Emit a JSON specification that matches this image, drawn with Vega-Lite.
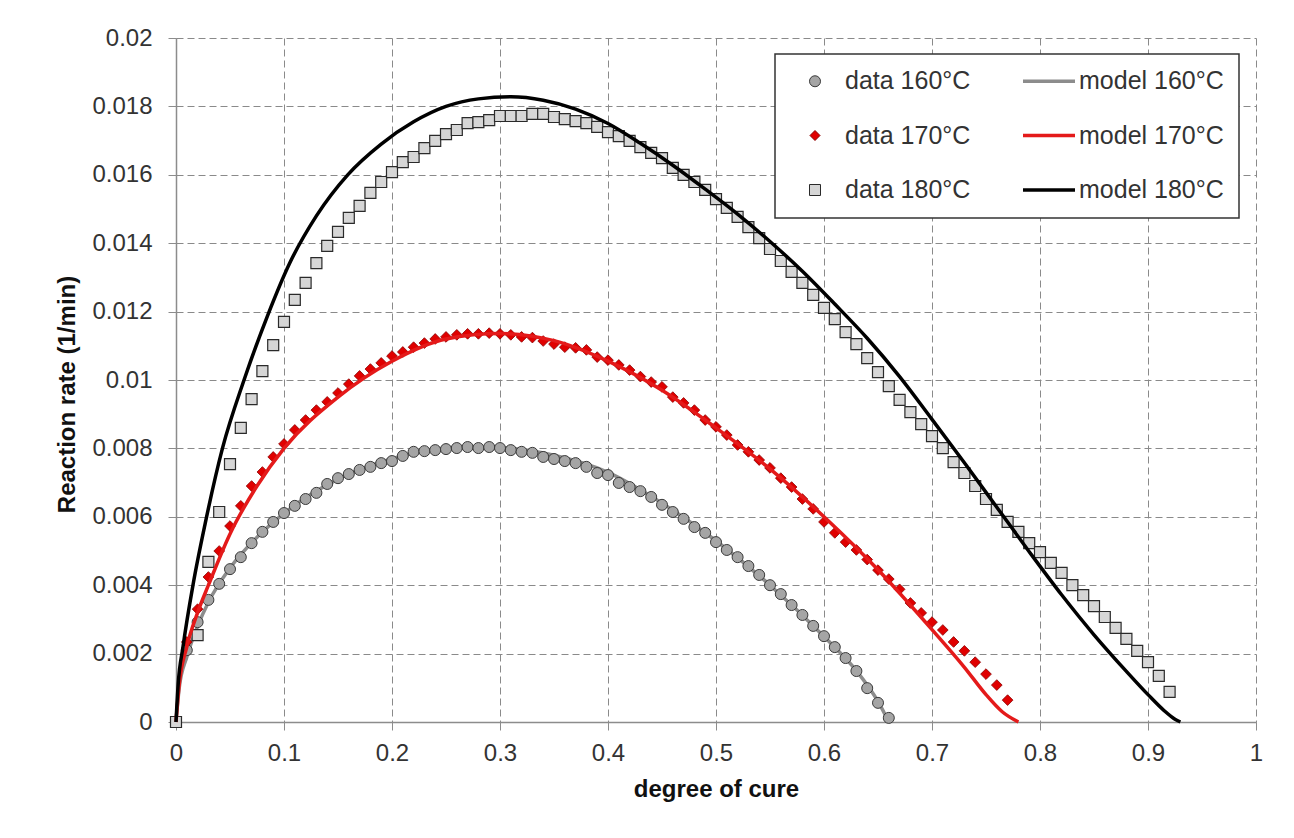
{
  "$schema": "https://vega.github.io/schema/vega-lite/v6.json",
  "autosize": {"type": "none"},
  "padding": {"left": 176, "top": 38, "right": 38, "bottom": 116},
  "width": 1080,
  "height": 684,
  "background": "white",
  "config": {
    "font": "Liberation Sans",
    "view": {"stroke": null},
    "axis": {
      "labelFont": "Liberation Sans", "labelFontSize": 24, "labelColor": "#333333",
      "titleFont": "Liberation Sans", "titleFontSize": 24, "titleFontWeight": "bold", "titleColor": "#111111",
      "gridColor": "#8a8a8a", "gridDash": [7, 4], "gridWidth": 1,
      "domainColor": "#8c8c8c", "domainWidth": 1.5,
      "tickColor": "#8c8c8c", "tickSize": 8, "tickWidth": 1,
      "labelOverlap": false, "labelFlush": false, "labelBound": false
    },
    "legend": {
      "orient": "none", "legendX": 599, "legendY": 16, "columns": 2,
      "padding": 14.5, "rowPadding": 28.5, "columnPadding": 45.5,
      "strokeColor": "#333333", "fillColor": "white",
      "labelFont": "Liberation Sans", "labelFontSize": 25, "labelColor": "#333333", "labelLimit": 300,
      "symbolSize": 121
    }
  },
  "data": {"values": [
    {"series":"data 160°C","alpha":0,"rate":0},{"series":"data 160°C","alpha":0.01,"rate":0.0021},{"series":"data 160°C","alpha":0.02,"rate":0.00292},{"series":"data 160°C","alpha":0.03,"rate":0.00357},{"series":"data 160°C","alpha":0.04,"rate":0.00404},{"series":"data 160°C","alpha":0.05,"rate":0.00447},{"series":"data 160°C","alpha":0.06,"rate":0.00482},{"series":"data 160°C","alpha":0.07,"rate":0.00523},{"series":"data 160°C","alpha":0.08,"rate":0.00556},{"series":"data 160°C","alpha":0.09,"rate":0.00585},{"series":"data 160°C","alpha":0.1,"rate":0.00611},{"series":"data 160°C","alpha":0.11,"rate":0.00632},{"series":"data 160°C","alpha":0.12,"rate":0.00652},{"series":"data 160°C","alpha":0.13,"rate":0.0067},{"series":"data 160°C","alpha":0.14,"rate":0.00696},{"series":"data 160°C","alpha":0.15,"rate":0.00713},{"series":"data 160°C","alpha":0.16,"rate":0.00725},{"series":"data 160°C","alpha":0.17,"rate":0.00737},{"series":"data 160°C","alpha":0.18,"rate":0.00746},{"series":"data 160°C","alpha":0.19,"rate":0.00757},{"series":"data 160°C","alpha":0.2,"rate":0.00763},{"series":"data 160°C","alpha":0.21,"rate":0.00778},{"series":"data 160°C","alpha":0.22,"rate":0.0079},{"series":"data 160°C","alpha":0.23,"rate":0.00792},{"series":"data 160°C","alpha":0.24,"rate":0.00795},{"series":"data 160°C","alpha":0.25,"rate":0.00798},{"series":"data 160°C","alpha":0.26,"rate":0.00801},{"series":"data 160°C","alpha":0.27,"rate":0.00804},{"series":"data 160°C","alpha":0.28,"rate":0.00801},{"series":"data 160°C","alpha":0.29,"rate":0.00804},{"series":"data 160°C","alpha":0.3,"rate":0.00801},{"series":"data 160°C","alpha":0.31,"rate":0.00795},{"series":"data 160°C","alpha":0.32,"rate":0.0079},{"series":"data 160°C","alpha":0.33,"rate":0.00787},{"series":"data 160°C","alpha":0.34,"rate":0.00775},{"series":"data 160°C","alpha":0.35,"rate":0.00769},{"series":"data 160°C","alpha":0.36,"rate":0.00763},{"series":"data 160°C","alpha":0.37,"rate":0.00757},{"series":"data 160°C","alpha":0.38,"rate":0.00746},{"series":"data 160°C","alpha":0.39,"rate":0.00728},{"series":"data 160°C","alpha":0.4,"rate":0.00722},{"series":"data 160°C","alpha":0.41,"rate":0.00699},{"series":"data 160°C","alpha":0.42,"rate":0.00687},{"series":"data 160°C","alpha":0.43,"rate":0.00675},{"series":"data 160°C","alpha":0.44,"rate":0.00658},{"series":"data 160°C","alpha":0.45,"rate":0.00635},{"series":"data 160°C","alpha":0.46,"rate":0.00614},{"series":"data 160°C","alpha":0.47,"rate":0.00594},{"series":"data 160°C","alpha":0.48,"rate":0.0057},{"series":"data 160°C","alpha":0.49,"rate":0.00553},{"series":"data 160°C","alpha":0.5,"rate":0.00526},{"series":"data 160°C","alpha":0.51,"rate":0.00503},{"series":"data 160°C","alpha":0.52,"rate":0.00482},{"series":"data 160°C","alpha":0.53,"rate":0.00456},{"series":"data 160°C","alpha":0.54,"rate":0.0043},{"series":"data 160°C","alpha":0.55,"rate":0.004},{"series":"data 160°C","alpha":0.56,"rate":0.00374},{"series":"data 160°C","alpha":0.57,"rate":0.00342},{"series":"data 160°C","alpha":0.58,"rate":0.00313},{"series":"data 160°C","alpha":0.59,"rate":0.00281},{"series":"data 160°C","alpha":0.6,"rate":0.00251},{"series":"data 160°C","alpha":0.61,"rate":0.00219},{"series":"data 160°C","alpha":0.62,"rate":0.00187},{"series":"data 160°C","alpha":0.63,"rate":0.00149},{"series":"data 160°C","alpha":0.64,"rate":0.00099},{"series":"data 160°C","alpha":0.65,"rate":0.00056},{"series":"data 160°C","alpha":0.66,"rate":0.00012},
    {"series":"data 170°C","alpha":0,"rate":0},{"series":"data 170°C","alpha":0.01,"rate":0.00234},{"series":"data 170°C","alpha":0.02,"rate":0.0033},{"series":"data 170°C","alpha":0.03,"rate":0.00424},{"series":"data 170°C","alpha":0.04,"rate":0.005},{"series":"data 170°C","alpha":0.05,"rate":0.00573},{"series":"data 170°C","alpha":0.06,"rate":0.00632},{"series":"data 170°C","alpha":0.07,"rate":0.0069},{"series":"data 170°C","alpha":0.08,"rate":0.00731},{"series":"data 170°C","alpha":0.09,"rate":0.00775},{"series":"data 170°C","alpha":0.1,"rate":0.00813},{"series":"data 170°C","alpha":0.11,"rate":0.00854},{"series":"data 170°C","alpha":0.12,"rate":0.00883},{"series":"data 170°C","alpha":0.13,"rate":0.00912},{"series":"data 170°C","alpha":0.14,"rate":0.00936},{"series":"data 170°C","alpha":0.15,"rate":0.00962},{"series":"data 170°C","alpha":0.16,"rate":0.00988},{"series":"data 170°C","alpha":0.17,"rate":0.01012},{"series":"data 170°C","alpha":0.18,"rate":0.01032},{"series":"data 170°C","alpha":0.19,"rate":0.0105},{"series":"data 170°C","alpha":0.2,"rate":0.0107},{"series":"data 170°C","alpha":0.21,"rate":0.01082},{"series":"data 170°C","alpha":0.22,"rate":0.01096},{"series":"data 170°C","alpha":0.23,"rate":0.01108},{"series":"data 170°C","alpha":0.24,"rate":0.0112},{"series":"data 170°C","alpha":0.25,"rate":0.01126},{"series":"data 170°C","alpha":0.26,"rate":0.01132},{"series":"data 170°C","alpha":0.27,"rate":0.01135},{"series":"data 170°C","alpha":0.28,"rate":0.01135},{"series":"data 170°C","alpha":0.29,"rate":0.01137},{"series":"data 170°C","alpha":0.3,"rate":0.01135},{"series":"data 170°C","alpha":0.31,"rate":0.01132},{"series":"data 170°C","alpha":0.32,"rate":0.01126},{"series":"data 170°C","alpha":0.33,"rate":0.01124},{"series":"data 170°C","alpha":0.34,"rate":0.01114},{"series":"data 170°C","alpha":0.35,"rate":0.01105},{"series":"data 170°C","alpha":0.36,"rate":0.01096},{"series":"data 170°C","alpha":0.37,"rate":0.01094},{"series":"data 170°C","alpha":0.38,"rate":0.01088},{"series":"data 170°C","alpha":0.39,"rate":0.01067},{"series":"data 170°C","alpha":0.4,"rate":0.01058},{"series":"data 170°C","alpha":0.41,"rate":0.01044},{"series":"data 170°C","alpha":0.42,"rate":0.01029},{"series":"data 170°C","alpha":0.43,"rate":0.0101},{"series":"data 170°C","alpha":0.44,"rate":0.00994},{"series":"data 170°C","alpha":0.45,"rate":0.0098},{"series":"data 170°C","alpha":0.46,"rate":0.0095},{"series":"data 170°C","alpha":0.47,"rate":0.00933},{"series":"data 170°C","alpha":0.48,"rate":0.00912},{"series":"data 170°C","alpha":0.49,"rate":0.00883},{"series":"data 170°C","alpha":0.5,"rate":0.00863},{"series":"data 170°C","alpha":0.51,"rate":0.00839},{"series":"data 170°C","alpha":0.52,"rate":0.0081},{"series":"data 170°C","alpha":0.53,"rate":0.0079},{"series":"data 170°C","alpha":0.54,"rate":0.00766},{"series":"data 170°C","alpha":0.55,"rate":0.00743},{"series":"data 170°C","alpha":0.56,"rate":0.00713},{"series":"data 170°C","alpha":0.57,"rate":0.00687},{"series":"data 170°C","alpha":0.58,"rate":0.00652},{"series":"data 170°C","alpha":0.59,"rate":0.00623},{"series":"data 170°C","alpha":0.6,"rate":0.00585},{"series":"data 170°C","alpha":0.61,"rate":0.00553},{"series":"data 170°C","alpha":0.62,"rate":0.00526},{"series":"data 170°C","alpha":0.63,"rate":0.00503},{"series":"data 170°C","alpha":0.64,"rate":0.00475},{"series":"data 170°C","alpha":0.65,"rate":0.00444},{"series":"data 170°C","alpha":0.66,"rate":0.00418},{"series":"data 170°C","alpha":0.67,"rate":0.00388},{"series":"data 170°C","alpha":0.68,"rate":0.00348},{"series":"data 170°C","alpha":0.69,"rate":0.00319},{"series":"data 170°C","alpha":0.7,"rate":0.00292},{"series":"data 170°C","alpha":0.71,"rate":0.00269},{"series":"data 170°C","alpha":0.72,"rate":0.00234},{"series":"data 170°C","alpha":0.73,"rate":0.00208},{"series":"data 170°C","alpha":0.74,"rate":0.00175},{"series":"data 170°C","alpha":0.75,"rate":0.0014},{"series":"data 170°C","alpha":0.76,"rate":0.00108},{"series":"data 170°C","alpha":0.77,"rate":0.00064},
    {"series":"data 180°C","alpha":0,"rate":0},{"series":"data 180°C","alpha":0.02,"rate":0.00254},{"series":"data 180°C","alpha":0.03,"rate":0.00468},{"series":"data 180°C","alpha":0.04,"rate":0.00614},{"series":"data 180°C","alpha":0.05,"rate":0.00754},{"series":"data 180°C","alpha":0.06,"rate":0.0086},{"series":"data 180°C","alpha":0.07,"rate":0.00944},{"series":"data 180°C","alpha":0.08,"rate":0.01026},{"series":"data 180°C","alpha":0.09,"rate":0.01102},{"series":"data 180°C","alpha":0.1,"rate":0.0117},{"series":"data 180°C","alpha":0.11,"rate":0.01234},{"series":"data 180°C","alpha":0.12,"rate":0.01284},{"series":"data 180°C","alpha":0.13,"rate":0.01342},{"series":"data 180°C","alpha":0.14,"rate":0.01392},{"series":"data 180°C","alpha":0.15,"rate":0.01433},{"series":"data 180°C","alpha":0.16,"rate":0.01474},{"series":"data 180°C","alpha":0.17,"rate":0.01509},{"series":"data 180°C","alpha":0.18,"rate":0.01547},{"series":"data 180°C","alpha":0.19,"rate":0.01579},{"series":"data 180°C","alpha":0.2,"rate":0.01608},{"series":"data 180°C","alpha":0.21,"rate":0.01637},{"series":"data 180°C","alpha":0.22,"rate":0.01652},{"series":"data 180°C","alpha":0.23,"rate":0.01678},{"series":"data 180°C","alpha":0.24,"rate":0.01699},{"series":"data 180°C","alpha":0.25,"rate":0.01719},{"series":"data 180°C","alpha":0.26,"rate":0.01731},{"series":"data 180°C","alpha":0.27,"rate":0.01751},{"series":"data 180°C","alpha":0.28,"rate":0.01754},{"series":"data 180°C","alpha":0.29,"rate":0.0176},{"series":"data 180°C","alpha":0.3,"rate":0.01772},{"series":"data 180°C","alpha":0.31,"rate":0.01772},{"series":"data 180°C","alpha":0.32,"rate":0.01772},{"series":"data 180°C","alpha":0.33,"rate":0.01778},{"series":"data 180°C","alpha":0.34,"rate":0.01778},{"series":"data 180°C","alpha":0.35,"rate":0.01769},{"series":"data 180°C","alpha":0.36,"rate":0.01763},{"series":"data 180°C","alpha":0.37,"rate":0.01757},{"series":"data 180°C","alpha":0.38,"rate":0.01751},{"series":"data 180°C","alpha":0.39,"rate":0.0174},{"series":"data 180°C","alpha":0.4,"rate":0.01725},{"series":"data 180°C","alpha":0.41,"rate":0.01713},{"series":"data 180°C","alpha":0.42,"rate":0.01699},{"series":"data 180°C","alpha":0.43,"rate":0.01681},{"series":"data 180°C","alpha":0.44,"rate":0.01664},{"series":"data 180°C","alpha":0.45,"rate":0.01649},{"series":"data 180°C","alpha":0.46,"rate":0.0162},{"series":"data 180°C","alpha":0.47,"rate":0.016},{"series":"data 180°C","alpha":0.48,"rate":0.01579},{"series":"data 180°C","alpha":0.49,"rate":0.01556},{"series":"data 180°C","alpha":0.5,"rate":0.01529},{"series":"data 180°C","alpha":0.51,"rate":0.01503},{"series":"data 180°C","alpha":0.52,"rate":0.01477},{"series":"data 180°C","alpha":0.53,"rate":0.01447},{"series":"data 180°C","alpha":0.54,"rate":0.01415},{"series":"data 180°C","alpha":0.55,"rate":0.01383},{"series":"data 180°C","alpha":0.56,"rate":0.01348},{"series":"data 180°C","alpha":0.57,"rate":0.01316},{"series":"data 180°C","alpha":0.58,"rate":0.01284},{"series":"data 180°C","alpha":0.59,"rate":0.01249},{"series":"data 180°C","alpha":0.6,"rate":0.01211},{"series":"data 180°C","alpha":0.61,"rate":0.01178},{"series":"data 180°C","alpha":0.62,"rate":0.0114},{"series":"data 180°C","alpha":0.63,"rate":0.01105},{"series":"data 180°C","alpha":0.64,"rate":0.01064},{"series":"data 180°C","alpha":0.65,"rate":0.01023},{"series":"data 180°C","alpha":0.66,"rate":0.00982},{"series":"data 180°C","alpha":0.67,"rate":0.00942},{"series":"data 180°C","alpha":0.68,"rate":0.00906},{"series":"data 180°C","alpha":0.69,"rate":0.00871},{"series":"data 180°C","alpha":0.7,"rate":0.00836},{"series":"data 180°C","alpha":0.71,"rate":0.00801},{"series":"data 180°C","alpha":0.72,"rate":0.0076},{"series":"data 180°C","alpha":0.73,"rate":0.00728},{"series":"data 180°C","alpha":0.74,"rate":0.0069},{"series":"data 180°C","alpha":0.75,"rate":0.00652},{"series":"data 180°C","alpha":0.76,"rate":0.0062},{"series":"data 180°C","alpha":0.77,"rate":0.00585},{"series":"data 180°C","alpha":0.78,"rate":0.00556},{"series":"data 180°C","alpha":0.79,"rate":0.00523},{"series":"data 180°C","alpha":0.8,"rate":0.00497},{"series":"data 180°C","alpha":0.81,"rate":0.00465},{"series":"data 180°C","alpha":0.82,"rate":0.00436},{"series":"data 180°C","alpha":0.83,"rate":0.004},{"series":"data 180°C","alpha":0.84,"rate":0.00371},{"series":"data 180°C","alpha":0.85,"rate":0.00339},{"series":"data 180°C","alpha":0.86,"rate":0.00307},{"series":"data 180°C","alpha":0.87,"rate":0.00275},{"series":"data 180°C","alpha":0.88,"rate":0.00243},{"series":"data 180°C","alpha":0.89,"rate":0.00208},{"series":"data 180°C","alpha":0.9,"rate":0.00175},{"series":"data 180°C","alpha":0.91,"rate":0.00135},{"series":"data 180°C","alpha":0.92,"rate":0.00088},
    {"series":"model 160°C","alpha":0,"rate":0},{"series":"model 160°C","alpha":0.003,"rate":0.001},{"series":"model 160°C","alpha":0.01,"rate":0.0019},{"series":"model 160°C","alpha":0.02,"rate":0.0028},{"series":"model 160°C","alpha":0.03,"rate":0.0035},{"series":"model 160°C","alpha":0.05,"rate":0.0045},{"series":"model 160°C","alpha":0.075,"rate":0.0054},{"series":"model 160°C","alpha":0.1,"rate":0.0061},{"series":"model 160°C","alpha":0.15,"rate":0.0071},{"series":"model 160°C","alpha":0.2,"rate":0.0077},{"series":"model 160°C","alpha":0.25,"rate":0.008},{"series":"model 160°C","alpha":0.3,"rate":0.00802},{"series":"model 160°C","alpha":0.35,"rate":0.0078},{"series":"model 160°C","alpha":0.4,"rate":0.0073},{"series":"model 160°C","alpha":0.45,"rate":0.0064},{"series":"model 160°C","alpha":0.5,"rate":0.0053},{"series":"model 160°C","alpha":0.55,"rate":0.004},{"series":"model 160°C","alpha":0.6,"rate":0.0025},{"series":"model 160°C","alpha":0.63,"rate":0.0015},{"series":"model 160°C","alpha":0.65,"rate":0.0006},{"series":"model 160°C","alpha":0.66,"rate":0},
    {"series":"model 170°C","alpha":0,"rate":0},{"series":"model 170°C","alpha":0.003,"rate":0.0011},{"series":"model 170°C","alpha":0.01,"rate":0.0022},{"series":"model 170°C","alpha":0.02,"rate":0.0032},{"series":"model 170°C","alpha":0.03,"rate":0.004},{"series":"model 170°C","alpha":0.05,"rate":0.0055},{"series":"model 170°C","alpha":0.075,"rate":0.0069},{"series":"model 170°C","alpha":0.1,"rate":0.008},{"series":"model 170°C","alpha":0.15,"rate":0.0095},{"series":"model 170°C","alpha":0.2,"rate":0.01055},{"series":"model 170°C","alpha":0.25,"rate":0.0112},{"series":"model 170°C","alpha":0.3,"rate":0.01136},{"series":"model 170°C","alpha":0.35,"rate":0.01115},{"series":"model 170°C","alpha":0.4,"rate":0.01055},{"series":"model 170°C","alpha":0.45,"rate":0.0097},{"series":"model 170°C","alpha":0.5,"rate":0.0086},{"series":"model 170°C","alpha":0.55,"rate":0.0074},{"series":"model 170°C","alpha":0.6,"rate":0.006},{"series":"model 170°C","alpha":0.65,"rate":0.00445},{"series":"model 170°C","alpha":0.7,"rate":0.0027},{"series":"model 170°C","alpha":0.73,"rate":0.0016},{"series":"model 170°C","alpha":0.75,"rate":0.0008},{"series":"model 170°C","alpha":0.765,"rate":0.0003},{"series":"model 170°C","alpha":0.78,"rate":0},
    {"series":"model 180°C","alpha":0,"rate":0},{"series":"model 180°C","alpha":0.002,"rate":0.0011},{"series":"model 180°C","alpha":0.0065,"rate":0.0022},{"series":"model 180°C","alpha":0.0157,"rate":0.004},{"series":"model 180°C","alpha":0.027,"rate":0.0058},{"series":"model 180°C","alpha":0.043,"rate":0.008},{"series":"model 180°C","alpha":0.063,"rate":0.01},{"series":"model 180°C","alpha":0.085,"rate":0.0119},{"series":"model 180°C","alpha":0.105,"rate":0.0134},{"series":"model 180°C","alpha":0.13,"rate":0.0148},{"series":"model 180°C","alpha":0.159,"rate":0.016},{"series":"model 180°C","alpha":0.19,"rate":0.0169},{"series":"model 180°C","alpha":0.22,"rate":0.01755},{"series":"model 180°C","alpha":0.25,"rate":0.018},{"series":"model 180°C","alpha":0.28,"rate":0.01822},{"series":"model 180°C","alpha":0.31,"rate":0.01828},{"series":"model 180°C","alpha":0.34,"rate":0.01818},{"series":"model 180°C","alpha":0.37,"rate":0.01792},{"series":"model 180°C","alpha":0.4,"rate":0.0175},{"series":"model 180°C","alpha":0.43,"rate":0.01692},{"series":"model 180°C","alpha":0.46,"rate":0.01628},{"series":"model 180°C","alpha":0.49,"rate":0.01558},{"series":"model 180°C","alpha":0.52,"rate":0.01485},{"series":"model 180°C","alpha":0.55,"rate":0.01405},{"series":"model 180°C","alpha":0.58,"rate":0.01318},{"series":"model 180°C","alpha":0.61,"rate":0.01222},{"series":"model 180°C","alpha":0.64,"rate":0.01122},{"series":"model 180°C","alpha":0.67,"rate":0.0101},{"series":"model 180°C","alpha":0.7,"rate":0.00885},{"series":"model 180°C","alpha":0.73,"rate":0.00758},{"series":"model 180°C","alpha":0.76,"rate":0.00628},{"series":"model 180°C","alpha":0.79,"rate":0.00498},{"series":"model 180°C","alpha":0.82,"rate":0.00372},{"series":"model 180°C","alpha":0.85,"rate":0.00255},{"series":"model 180°C","alpha":0.88,"rate":0.00148},{"series":"model 180°C","alpha":0.9,"rate":0.0008},{"series":"model 180°C","alpha":0.915,"rate":0.00033},{"series":"model 180°C","alpha":0.925,"rate":0.00008},{"series":"model 180°C","alpha":0.93,"rate":0}
  ]},
  "encoding": {
    "x": {"field": "alpha", "type": "quantitative",
      "scale": {"domain": [0, 1], "nice": false, "zero": false},
      "axis": {"title": "degree of cure", "values": [0,0.1,0.2,0.3,0.4,0.5,0.6,0.7,0.8,0.9,1], "format": "~g",
        "labelPadding": 11, "titleX": 540, "titleY": 67, "titleBaseline": "middle", "titleAnchor": null}},
    "y": {"field": "rate", "type": "quantitative",
      "scale": {"domain": [0, 0.02], "nice": false},
      "axis": {"title": "Reaction rate (1/min)", "values": [0,0.002,0.004,0.006,0.008,0.01,0.012,0.014,0.016,0.018,0.02], "format": "~g",
        "labelPadding": 16, "titleX": -109, "titleY": 356, "titleBaseline": "middle", "titleAngle": -90}},
    "stroke": {"field": "series", "type": "nominal", "title": null,
      "scale": {"domain": ["data 160°C","data 170°C","data 180°C","model 160°C","model 170°C","model 180°C"],
                "range": ["#3a3a3a","#8b0000","#2a2a2a","#8c8c8c","#e41a1a","#000000"]},
      "legend": {
        "title": null,
        "encode": {
          "symbols": {"update": {
            "shape": {"signal": "datum.value === 'data 160°C' ? 'circle' : datum.value === 'data 170°C' ? 'diamond' : datum.value === 'data 180°C' ? 'square' : 'stroke'"},
            "size": {"signal": "test(/^model/, datum.value) ? 2704 : (datum.value === 'data 170°C' ? 100 : 121)"},
            "strokeWidth": {"signal": "test(/^model/, datum.value) ? 3.5 : 1"},
            "opacity": {"value": 1},
            "x": {"signal": "test(/^model/, datum.value) ? 26 : 25.5"}
          }},
          "labels": {"update": {"x": {"signal": "test(/^model/, datum.value) ? 56 : 55.5"}}},
          "legend": {"update": {"strokeWidth": {"value": 1.5}}}
        }
      }}
  },
  "layer": [
    {"transform": [{"filter": {"field": "series", "equal": "model 160°C"}}],
     "mark": {"type": "line", "strokeWidth": 3.5, "interpolate": "monotone"}},
    {"encoding": {
      "fill": {"field": "series", "type": "nominal", "title": null,
        "scale": {"domain": ["data 160°C","data 170°C","data 180°C","model 160°C","model 170°C","model 180°C"],
                  "range": ["#a5a5a5","#e00000","#d6d6d6","transparent","transparent","transparent"]},
        "legend": {
          "title": null,
          "encode": {
            "symbols": {"update": {
              "shape": {"signal": "datum.value === 'data 160°C' ? 'circle' : datum.value === 'data 170°C' ? 'diamond' : datum.value === 'data 180°C' ? 'square' : 'stroke'"},
              "size": {"signal": "test(/^model/, datum.value) ? 2704 : (datum.value === 'data 170°C' ? 100 : 121)"},
              "strokeWidth": {"signal": "test(/^model/, datum.value) ? 3.5 : 1"},
              "opacity": {"value": 1},
              "x": {"signal": "test(/^model/, datum.value) ? 26 : 25.5"}
            }},
            "labels": {"update": {"x": {"signal": "test(/^model/, datum.value) ? 56 : 55.5"}}},
            "legend": {"update": {"strokeWidth": {"value": 1.5}}}
          }
        }}
     },
     "layer": [
      {"transform": [{"filter": {"field": "series", "equal": "data 160°C"}}],
       "mark": {"type": "point", "shape": "circle", "filled": true, "size": 121, "strokeWidth": 1, "opacity": 1}},
      {"transform": [{"filter": {"field": "series", "equal": "data 170°C"}}],
       "mark": {"type": "point", "shape": "diamond", "filled": true, "size": 115, "strokeWidth": 0.8, "opacity": 1}},
      {"transform": [{"filter": {"field": "series", "equal": "data 180°C"}}],
       "mark": {"type": "point", "shape": "square", "filled": true, "size": 121, "strokeWidth": 1.2, "opacity": 1}}
     ]},
    {"transform": [{"filter": {"field": "series", "equal": "model 170°C"}}],
     "mark": {"type": "line", "strokeWidth": 3.5, "interpolate": "monotone"}},
    {"transform": [{"filter": {"field": "series", "equal": "model 180°C"}}],
     "mark": {"type": "line", "strokeWidth": 3.5, "interpolate": "monotone"}}
  ]
}
